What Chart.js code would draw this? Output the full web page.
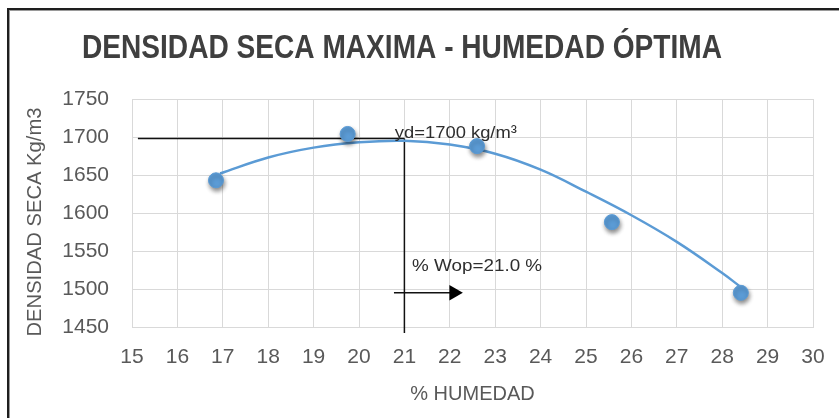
<!DOCTYPE html>
<html>
<head>
<meta charset="utf-8">
<script src="https://cdn.jsdelivr.net/npm/chart.js@4/dist/chart.umd.min.js"></script>
<style>
  html, body { margin: 0; padding: 0; background: #ffffff; }
  #wrap { width: 839px; height: 418px; position: relative; }
</style>
</head>
<body>
<div id="wrap"><canvas id="c" width="839" height="418"></canvas></div>
<script>
// ---- Data ----
const titleText = 'DENSIDAD SECA MAXIMA - HUMEDAD ÓPTIMA';
const xAxisTitle = '% HUMEDAD';
const yAxisTitle = 'DENSIDAD SECA Kg/m3';

// measured points (% moisture, dry density kg/m3)
const moisture = [16.85, 19.75, 22.6, 25.57, 28.41];
const density  = [1643, 1704, 1688, 1588, 1495];

// trend curve
const trendX = [16.94, 18, 19, 20, 21, 22, 23, 24, 25, 26, 27, 28, 28.4];
const trendY = [1652, 1673, 1686, 1693, 1695, 1690, 1678, 1657, 1628, 1597, 1562, 1521, 1503];

// guide lines
const hLineX = [15.13, 21.0];
const hLineY = [1698, 1698];
const vLineX = [21.0, 21.0];
const vLineY = [1698, 1442];
const arrowX = [20.77, 22.09];
const arrowY = [1495, 1495];

// annotation labels: [text, x, y]
const annDensity  = ['yd=1700 kg/m³', 20.79, 1705];
const annMoisture = ['% Wop=21.0 %', 21.17, 1530];

// tick labels
const xTicks = ['15','16','17','18','19','20','21','22','23','24','25','26','27','28','29','30'];
const yTicks = ['1450','1500','1550','1600','1650','1700','1750'];

function pts(xs, ys) { return xs.map((x, i) => ({ x: x, y: ys[i] })); }

const FONT = "'Liberation Sans', Arial, sans-serif";
const BLUE = '#5b9bd5';

const decorPlugin = {
  id: 'decor',
  beforeDraw(chart) {
    const ctx = chart.ctx;
    ctx.save();
    ctx.fillStyle = '#ffffff';
    ctx.fillRect(0, 0, chart.width, chart.height);
    // outer frame (top and left)
    ctx.fillStyle = '#9a9a9a';
    ctx.fillRect(9, 10, chart.width, 1);
    ctx.fillRect(9, 10, 1, chart.height);
    ctx.fillStyle = '#1e1e1e';
    ctx.fillRect(7, 8, chart.width, 2);
    ctx.fillRect(7, 8, 2, chart.height);
    ctx.restore();
  },
  beforeDatasetDraw(chart, args) {
    if (args.index === 0) {
      const ctx = chart.ctx;
      ctx.save();
      ctx.shadowColor = 'rgba(0,0,0,0.45)';
      ctx.shadowBlur = 4;
      ctx.shadowOffsetX = 1;
      ctx.shadowOffsetY = 3;
    }
  },
  afterDatasetDraw(chart, args) {
    if (args.index === 0) chart.ctx.restore();
  },
  afterDraw(chart) {
    const ctx = chart.ctx;
    const xs = chart.scales.x, ys = chart.scales.y;
    // chart title, fitted to the reference width
    ctx.save();
    ctx.font = 'bold 33px ' + FONT;
    ctx.fillStyle = '#3f3f3f';
    ctx.textBaseline = 'middle';
    ctx.textAlign = 'left';
    const w = ctx.measureText(titleText).width;
    ctx.translate(82, 49);
    ctx.scale(640 / w, 1);
    ctx.fillText(titleText, 0, 0);
    ctx.restore();

    // y axis title
    ctx.save();
    ctx.font = '20px ' + FONT;
    ctx.fillStyle = '#595959';
    ctx.textAlign = 'center';
    ctx.textBaseline = 'middle';
    ctx.translate(35, 222);
    ctx.rotate(-Math.PI / 2);
    const yw = ctx.measureText(yAxisTitle).width;
    ctx.scale(229 / yw, 1);
    ctx.fillText(yAxisTitle, 0, 0);
    ctx.restore();

    function label(a, size, targetW) {
      ctx.save();
      ctx.font = size + 'px ' + FONT;
      ctx.fillStyle = '#2e2e2e';
      ctx.textBaseline = 'middle';
      ctx.textAlign = 'left';
      const mw = ctx.measureText(a[0]).width;
      ctx.translate(xs.getPixelForValue(a[1]), ys.getPixelForValue(a[2]));
      ctx.scale(targetW / mw, 1);
      ctx.fillText(a[0], 0, 0);
      ctx.restore();
    }
    label(annDensity, 17, 122);
    label(annMoisture, 17, 130);
  }
};

new Chart(document.getElementById('c'), {
  type: 'scatter',
  data: {
    datasets: [
      {
        label: 'Ensayos',
        data: pts(moisture, density),
        backgroundColor: BLUE,
        borderColor: BLUE,
        pointRadius: 7.5,
        pointHoverRadius: 7.5,
        showLine: false
      },
      {
        label: 'Tendencia',
        data: pts(trendX, trendY),
        borderColor: BLUE,
        borderWidth: 2.5,
        pointRadius: 0,
        showLine: true,
        tension: 0.4
      },
      {
        label: 'h',
        data: pts(hLineX, hLineY),
        borderColor: '#111111',
        borderWidth: 1.5,
        pointRadius: 0,
        showLine: true
      },
      {
        label: 'v',
        data: pts(vLineX, vLineY),
        borderColor: '#111111',
        borderWidth: 1.5,
        pointRadius: 0,
        showLine: true,
        clip: false
      },
      {
        label: 'arrow',
        data: pts(arrowX, arrowY),
        borderColor: '#111111',
        backgroundColor: '#000000',
        borderWidth: 1.5,
        showLine: true,
        pointStyle: 'triangle',
        pointRotation: 90,
        pointRadius: [0, 9],
        pointBorderWidth: 0
      }
    ]
  },
  options: {
    responsive: false,
    animation: false,
    events: [],
    layout: { padding: { left: 0, right: 26, top: 99, bottom: 0 } },
    plugins: {
      legend: { display: false },
      tooltip: { enabled: false },
      title: { display: false }
    },
    scales: {
      x: {
        type: 'linear',
        min: 15,
        max: 30,
        afterFit(s) { s.height = 91; s.paddingLeft = 0; s.paddingRight = 0; },
        ticks: {
          stepSize: 1,
          padding: 18,
          color: '#595959',
          font: { family: FONT, size: 21 },
          callback: (v) => xTicks[Math.round(v - 15)]
        },
        grid: { color: '#d9d9d9', lineWidth: 1, drawTicks: false },
        border: { color: '#d9d9d9' },
        title: {
          display: true,
          text: xAxisTitle,
          color: '#595959',
          font: { family: FONT, size: 20 },
          padding: { top: 12, bottom: 12 }
        }
      },
      y: {
        type: 'linear',
        min: 1450,
        max: 1750,
        afterFit(s) { s.width = 132; },
        ticks: {
          stepSize: 50,
          padding: 23,
          color: '#595959',
          font: { family: FONT, size: 21 },
          callback: (v) => yTicks[Math.round((v - 1450) / 50)]
        },
        grid: { color: '#d9d9d9', lineWidth: 1, drawTicks: false },
        border: { color: '#d9d9d9' },
        title: { display: false }
      }
    }
  },
  plugins: [decorPlugin]
});
</script>
</body>
</html>
